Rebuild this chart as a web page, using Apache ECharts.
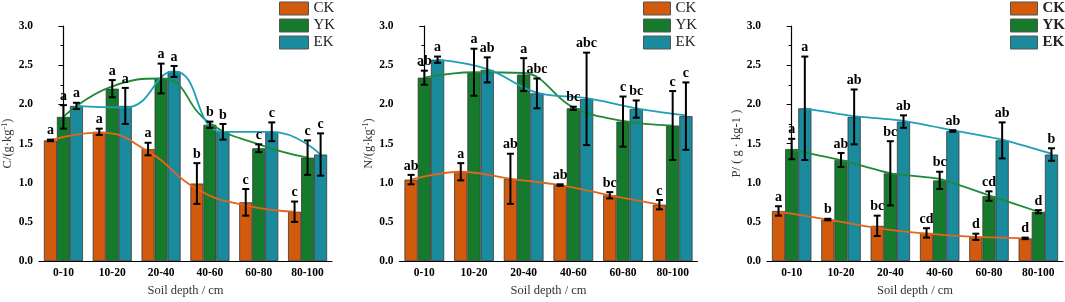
<!DOCTYPE html>
<html>
<head>
<meta charset="utf-8">
<script src="https://cdn.jsdelivr.net/npm/echarts@6/dist/echarts.min.js"></script>
<style>
  html, body { margin: 0; padding: 0; background: #fff; }
  #main { width: 1065px; height: 302px; }
</style>
</head>
<body>
<div id="main"></div>
<script>
// soil depth classes and treatments
var depths = ['0-10', '10-20', '20-40', '40-60', '60-80', '80-100'];
var groups = ['CK', 'YK', 'EK'];

// C content, rows CK / YK / EK
var cMeans = [
    [1.54, 1.65, 1.43, 0.99, 0.75, 0.63],
    [1.84, 2.20, 2.33, 1.74, 1.44, 1.32],
    [1.98, 1.98, 2.42, 1.65, 1.65, 1.36]
];
var cErrors = [
    [0.01, 0.04, 0.08, 0.26, 0.17, 0.13],
    [0.15, 0.11, 0.19, 0.04, 0.05, 0.22],
    [0.04, 0.23, 0.07, 0.10, 0.12, 0.27]
];
var cLetters = [
    ['a', 'a', 'a', 'b', 'c', 'c'],
    ['a', 'a', 'a', 'b', 'c', 'c'],
    ['a', 'a', 'a', 'b', 'c', 'c']
];
var cFits = [
    [1.54, 1.64, 1.40, 0.92, 0.71, 0.63],
    [1.84, 2.23, 2.33, 1.76, 1.49, 1.32],
    [1.98, 1.96, 2.42, 1.65, 1.65, 1.36]
];

// N content
var nMeans = [
    [1.04, 1.14, 1.05, 0.97, 0.84, 0.72],
    [2.34, 2.41, 2.38, 1.95, 1.78, 1.73],
    [2.57, 2.44, 2.14, 2.07, 1.94, 1.85]
];
var nErrors = [
    [0.06, 0.11, 0.32, 0.01, 0.04, 0.06],
    [0.09, 0.30, 0.21, 0.02, 0.32, 0.44],
    [0.04, 0.16, 0.19, 0.59, 0.11, 0.43]
];
var nLetters = [
    ['ab', 'a', 'ab', 'ab', 'bc', 'c'],
    ['ab', 'a', 'a', 'bc', 'c', 'c'],
    ['a', 'ab', 'abc', 'abc', 'bc', 'c']
];
var nFits = [
    [1.04, 1.14, 1.05, 0.97, 0.84, 0.72],
    [2.34, 2.41, 2.40, 1.96, 1.79, 1.73],
    [2.57, 2.45, 2.15, 2.08, 1.95, 1.86]
];

// P content
var pMeans = [
    [0.64, 0.53, 0.45, 0.36, 0.31, 0.29],
    [1.43, 1.29, 1.12, 1.03, 0.83, 0.63],
    [1.95, 1.84, 1.78, 1.66, 1.54, 1.36]
];
var pErrors = [
    [0.06, 0.01, 0.13, 0.06, 0.04, 0.01],
    [0.13, 0.09, 0.41, 0.11, 0.06, 0.02],
    [0.66, 0.35, 0.08, 0.01, 0.23, 0.08]
];
var pLetters = [
    ['a', 'b', 'bc', 'cd', 'd', 'd'],
    ['a', 'ab', 'bc', 'bc', 'cd', 'd'],
    ['a', 'ab', 'ab', 'ab', 'ab', 'b']
];
var pFits = [
    [0.63, 0.53, 0.42, 0.35, 0.31, 0.29],
    [1.42, 1.29, 1.12, 1.05, 0.84, 0.63],
    [1.95, 1.85, 1.79, 1.67, 1.55, 1.37]
];

var barColors = ['#d25a0c', '#167a2c', '#1a8a9d'];
var lineColors = ['#e2661a', '#1f8a36', '#1f9fb6'];
var serif = '"Liberation Serif", "Times New Roman", serif';
var barGapPct = 0.2;
var barW = (1 - barGapPct) / 3;
var offsets = [-barW, 0, barW];

var panels = [
    { left: 36, width: 296, yName: 'C/(g·kg{s|-1})', nameGap: 24, means: cMeans, errors: cErrors, letters: cLetters, fits: cFits, smooth: 0.5, legendLeft: 279, iconW: 29, bold: false },
    { left: 399.5, width: 298, yName: 'N/(g·kg{s|-1})', nameGap: 24, means: nMeans, errors: nErrors, letters: nLetters, fits: nFits, smooth: 0.4, legendLeft: 643, iconW: 27, bold: false },
    { left: 767, width: 296, yName: 'P/ ( g · kg-1 )', nameGap: 24, means: pMeans, errors: pErrors, letters: pLetters, fits: pFits, smooth: 0.15, legendLeft: 1010, iconW: 27, bold: true }
];

function errorBars(letters) {
    return function (params, api) {
        var x = api.value(0), m = api.value(1), sd = api.value(2);
        var top = api.coord([x, m + sd]);
        var bot = api.coord([x, m - sd]);
        var w = 3.5;
        var txt = letters[api.value(3)][api.value(4)];
        var st = { stroke: '#000', lineWidth: 2 };
        return {
            type: 'group',
            children: [
                { type: 'line', shape: { x1: top[0], y1: top[1], x2: bot[0], y2: bot[1] }, style: st },
                { type: 'line', shape: { x1: top[0] - w, y1: top[1], x2: top[0] + w, y2: top[1] }, style: st },
                { type: 'line', shape: { x1: bot[0] - w, y1: bot[1], x2: bot[0] + w, y2: bot[1] }, style: st },
                {
                    type: 'text', x: top[0], y: top[1] - 2,
                    style: { text: txt, align: 'center', verticalAlign: 'bottom', font: 'bold 14px ' + serif, fill: '#000' }
                }
            ]
        };
    };
}

var grids = [], xAxes = [], yAxes = [], legends = [], series = [];

panels.forEach(function (pn, p) {
    grids.push({ left: pn.left, width: pn.width, top: 26, bottom: 37.5 });

    xAxes.push({
        type: 'category', gridIndex: p, data: depths,
        name: 'Soil depth / cm', nameLocation: 'middle', nameGap: 20,
        nameTextStyle: { fontFamily: serif, fontSize: 12.5, color: '#333' },
        axisLine: { lineStyle: { color: '#000', width: 1.2 } },
        axisTick: { show: false },
        axisLabel: { interval: 0, margin: 6, fontFamily: serif, fontSize: 11.5, fontWeight: 'bold', color: '#000' }
    });

    yAxes.push({
        type: 'value', gridIndex: p, min: 0, max: 3, interval: 0.5,
        name: pn.yName, nameLocation: 'middle', nameGap: pn.nameGap, nameRotate: 90,
        nameTextStyle: {
            fontFamily: serif, fontSize: 12.5, color: '#333',
            rich: { s: { fontFamily: serif, fontSize: 8, color: '#333', verticalAlign: 'top', padding: [0, 0, 6, 0] } }
        },
        axisLine: { show: true, lineStyle: { color: '#000', width: 1.2 } },
        axisTick: { show: true, length: 5, lineStyle: { color: '#000' } },
        minorTick: { show: true, splitNumber: 2, length: 3, lineStyle: { color: '#000' } },
        splitLine: { show: false },
        axisLabel: {
            margin: 6, fontFamily: serif, fontSize: 11.5, fontWeight: 'bold', color: '#000',
            formatter: function (v) { return v.toFixed(1); }
        }
    });

    legends.push({
        orient: 'vertical', left: pn.legendLeft, top: 1, padding: 0,
        itemWidth: pn.iconW, itemHeight: 13, itemGap: 2, icon: 'rect',
        data: groups,
        itemStyle: { borderColor: '#555', borderWidth: 1 },
        textStyle: { fontFamily: serif, fontSize: 15, color: '#222', fontWeight: pn.bold ? 'bold' : 'normal' },
        selectedMode: false
    });

    groups.forEach(function (g, k) {
        series.push({
            name: g, type: 'bar', xAxisIndex: p, yAxisIndex: p,
            barGap: '0%', barCategoryGap: (barGapPct * 100) + '%',
            data: pn.means[k],
            itemStyle: { color: barColors[k], borderColor: '#3a3a3a', borderWidth: 0.8 },
            z: 2, silent: true
        });
    });
});

// hidden value x-axes so lines and error bars sit on each bar's centre
panels.forEach(function (pn, p) {
    xAxes.push({ type: 'value', gridIndex: p, min: -0.5, max: 5.5, show: false });
    var xi = 3 + p;
    groups.forEach(function (g, k) {
        series.push({
            name: g + ' fit', type: 'line', xAxisIndex: xi, yAxisIndex: p,
            data: pn.fits[k].map(function (v, i) { return [i + offsets[k], v]; }),
            smooth: pn.smooth, symbol: 'none',
            lineStyle: { color: lineColors[k], width: 1.8 },
            z: 3, silent: true
        });
    });
    var errData = [];
    groups.forEach(function (g, k) {
        pn.means[k].forEach(function (m, i) {
            errData.push([i + offsets[k], m, pn.errors[k][i], k, i]);
        });
    });
    series.push({
        name: 'err', type: 'custom', xAxisIndex: xi, yAxisIndex: p,
        data: errData, renderItem: errorBars(pn.letters),
        z: 4, silent: true
    });
});

var chart = echarts.init(document.getElementById('main'));
chart.setOption({
    animation: false,
    grid: grids,
    xAxis: xAxes,
    yAxis: yAxes,
    legend: legends,
    series: series
});
</script>
</body>
</html>
